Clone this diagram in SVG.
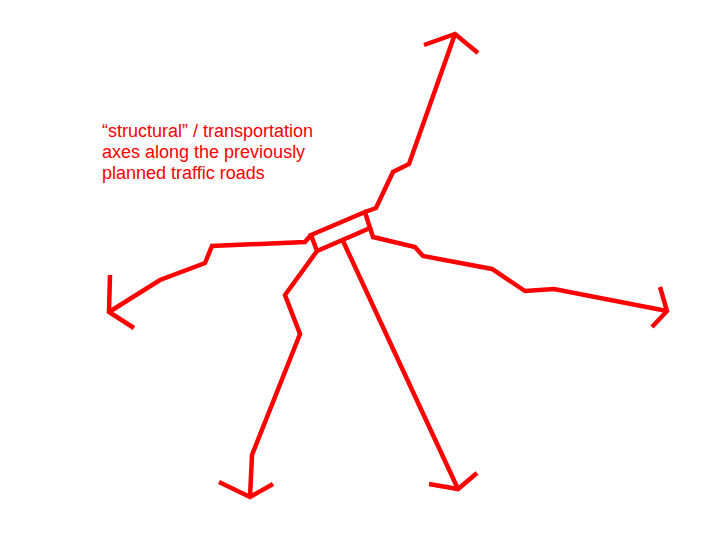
<svg xmlns="http://www.w3.org/2000/svg" width="723" height="540" viewBox="0 0 723 540">
<style>
.road{fill:none;stroke:#ff0000;stroke-width:4.5;stroke-linejoin:miter;stroke-linecap:butt}
.lbl{font-family:"Liberation Sans",Arial,sans-serif;font-size:18px;fill:#ff0000}
</style>
<rect width="723" height="540" fill="#ffffff"/>
<g id="label">
<text class="lbl" x="102" y="137">“structural” / transportation</text>
<text class="lbl" x="102" y="158">axes along the previously</text>
<text class="lbl" x="102" y="179">planned traffic roads</text>
</g>
<g id="center">
<polygon class="road" points="311,235 365,212 370,228 317,251"/>
</g>
<g id="connectors">
<polyline id="north" class="road" points="365,212 376,208 393,172 409,164 455,34"/>
<polyline id="north-head" class="road" points="424,45 455,34 478,53"/>
<polyline id="west" class="road" points="311,235 305,242 212,246 205,263 160,280 109,312"/>
<polyline id="west-head" class="road" points="110,275 109,312 134,328"/>
<polyline id="east" class="road" points="370,228 373,237 415,247 423,256 492,269 525,291 554,289 667,311"/>
<polyline id="east-head" class="road" points="660,287 667,311 652,327"/>
<polyline id="southwest" class="road" points="317,251 285,295 300,334 252,455 250,497"/>
<polyline id="southwest-head" class="road" points="219,482 250,497 273,484"/>
<polyline id="south" class="road" points="343,241 458,489"/>
<polyline id="south-head" class="road" points="429,484 458,489 477,473"/>
</g>
</svg>
